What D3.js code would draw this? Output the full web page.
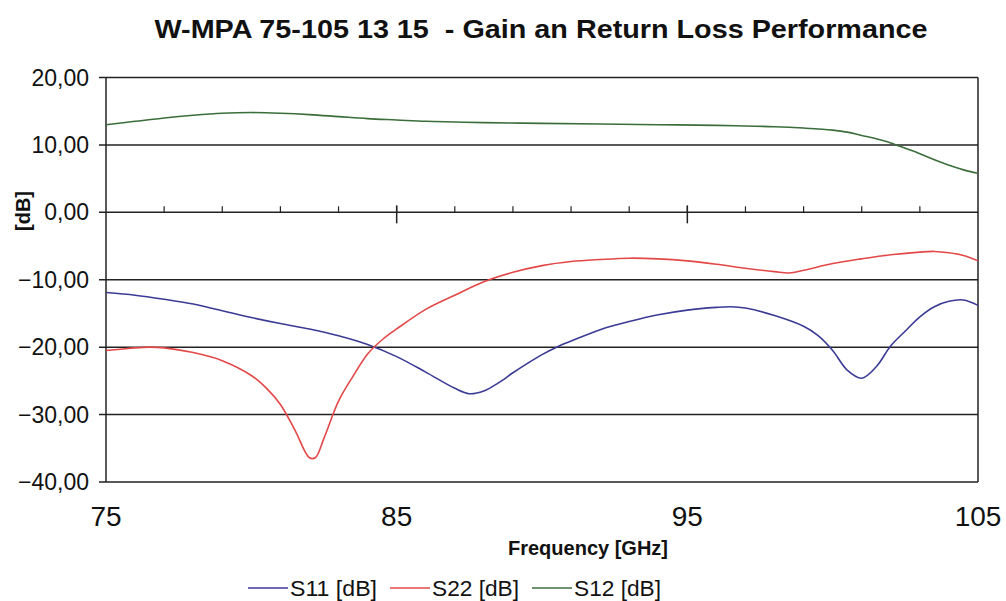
<!DOCTYPE html>
<html>
<head>
<meta charset="utf-8">
<script src="https://cdn.jsdelivr.net/npm/d3@7"></script>
<style>
  body { margin: 0; background: #fff; }
  text { font-family: "Liberation Sans", Arial, sans-serif; fill: #111; white-space: pre; }
</style>
</head>
<body>
<svg id="chart" width="1006" height="601"></svg>
<script>
// ---- data ----
const title = "W-MPA 75-105 13 15  - Gain an Return Loss Performance";
const xTicks = [75, 85, 95, 105];
const yTicks = [20, 10, 0, -10, -20, -30, -40];

const s11Freq = [75, 76, 77, 78, 79, 80, 81, 82, 83, 84, 85, 86, 87, 87.5, 88, 88.5, 89, 89.5, 90, 90.5, 91, 92, 93, 94, 95, 96, 96.5, 97, 98, 99, 99.5, 100, 100.5, 101, 101.5, 102, 102.5, 103, 103.5, 104, 104.5, 105];
const s11 = [-11.9, -12.3, -12.9, -13.6, -14.6, -15.6, -16.5, -17.3, -18.3, -19.6, -21.4, -23.7, -26.1, -26.9, -26.5, -25.3, -23.8, -22.4, -21.1, -20.0, -19.1, -17.4, -16.2, -15.2, -14.5, -14.1, -14.0, -14.2, -15.3, -16.9, -18.3, -20.5, -23.4, -24.6, -22.9, -19.8, -17.6, -15.5, -14.0, -13.2, -13.0, -13.8];

const s22Freq = [75, 75.5, 76, 76.5, 77, 78, 79, 80, 80.5, 81, 81.5, 82, 82.2, 82.5, 83, 83.5, 84, 84.5, 85, 86, 87, 88, 89, 90, 91, 92, 93, 94, 95, 96, 97, 98, 98.5, 99, 100, 101, 102, 103, 103.5, 104, 104.5, 105];
const s22 = [-20.5, -20.3, -20.1, -20.0, -20.1, -20.8, -22.0, -24.2, -26.0, -28.5, -32.3, -36.4, -36.4, -33.5, -28.0, -24.3, -21.0, -18.9, -17.3, -14.4, -12.3, -10.3, -8.9, -7.9, -7.3, -7.0, -6.8, -6.9, -7.2, -7.7, -8.3, -8.8, -9.0, -8.6, -7.6, -6.9, -6.3, -5.9, -5.8, -6.0, -6.4, -7.2];

const s12Freq = [75, 76, 77, 78, 79, 80, 81, 82, 83, 84, 85, 86, 87, 88, 90, 92, 94, 96, 97, 98, 99, 100, 100.5, 101, 101.5, 102, 102.5, 103, 103.5, 104, 104.5, 105];
const s12 = [13.0, 13.5, 14.0, 14.4, 14.7, 14.8, 14.7, 14.5, 14.2, 13.9, 13.7, 13.5, 13.4, 13.3, 13.2, 13.1, 13.0, 12.9, 12.8, 12.7, 12.5, 12.2, 11.9, 11.4, 10.9, 10.3, 9.5, 8.7, 7.8, 7.0, 6.3, 5.8];

const seriesNames = ["S11 [dB]", "S22 [dB]", "S12 [dB]"];
const seriesColors = ["#3b3b95", "#e34848", "#3c6e3c"];

// ---- layout ----
const svg = d3.select("#chart");
const plotLeft = 106, plotRight = 978, plotTop = 77.5, plotBottom = 482;

const x = d3.scaleLinear().domain([75, 105]).range([plotLeft, plotRight]);
const y = d3.scaleLinear().domain([-40, 20]).range([plotBottom, plotTop]);

svg.append("text")
  .attr("x", 541).attr("y", 38)
  .attr("text-anchor", "middle")
  .attr("font-size", 26).attr("font-weight", "bold")
  .attr("textLength", 773).attr("lengthAdjust", "spacingAndGlyphs")
  .text(title);

/* --- horizontal gridlines + y labels --- */
svg.append("g").selectAll("line")
  .data(yTicks)
  .join("line")
  .attr("x1", plotLeft - 7).attr("x2", plotRight)
  .attr("y1", (d) => y(d)).attr("y2", (d) => y(d))
  .attr("stroke", "#222").attr("stroke-width", 1.5);

svg.append("g").selectAll("text")
  .data(yTicks)
  .join("text")
  .attr("x", 89).attr("y", (d) => y(d) + 8)
  .attr("text-anchor", "end")
  .attr("font-size", 23)
  .text((d) => d3.format(".2f")(d).replace(".", ","));

/* --- frame --- */
svg.append("line").attr("x1", plotLeft).attr("x2", plotLeft).attr("y1", plotTop).attr("y2", plotBottom)
  .attr("stroke", "#222").attr("stroke-width", 1.5);
svg.append("line").attr("x1", plotRight).attr("x2", plotRight).attr("y1", plotTop).attr("y2", plotBottom)
  .attr("stroke", "#222").attr("stroke-width", 1.5);

/* --- ticks on the 0 dB line --- */
const minorTicks = d3.range(77, 105, 2);
svg.append("g").selectAll("line")
  .data(minorTicks)
  .join("line")
  .attr("x1", (d) => x(d)).attr("x2", (d) => x(d))
  .attr("y1", y(0) - 6).attr("y2", y(0))
  .attr("stroke", "#222").attr("stroke-width", 1.2);
svg.append("g").selectAll("line")
  .data([85, 95])
  .join("line")
  .attr("x1", (d) => x(d)).attr("x2", (d) => x(d))
  .attr("y1", y(0) - 7).attr("y2", y(0) + 11)
  .attr("stroke", "#222").attr("stroke-width", 1.5);

/* --- x labels --- */
svg.append("g").selectAll("text")
  .data(xTicks)
  .join("text")
  .attr("x", (d) => x(d)).attr("y", 526)
  .attr("text-anchor", "middle")
  .attr("font-size", 28)
  .text((d) => d);

svg.append("text")
  .attr("x", 588).attr("y", 555)
  .attr("text-anchor", "middle")
  .attr("font-size", 20).attr("font-weight", "bold")
  .text("Frequency [GHz]");

svg.append("text")
  .attr("transform", "translate(30,211) rotate(-90)")
  .attr("text-anchor", "middle")
  .attr("font-size", 20).attr("font-weight", "bold")
  .text("[dB]");

/* --- series --- */
const series = [
  { name: seriesNames[0], freq: s11Freq, vals: s11, color: seriesColors[0] },
  { name: seriesNames[1], freq: s22Freq, vals: s22, color: seriesColors[1] },
  { name: seriesNames[2], freq: s12Freq, vals: s12, color: seriesColors[2] },
];

const line = d3.line()
  .x((d) => x(d[0]))
  .y((d) => y(d[1]))
  .curve(d3.curveCatmullRom.alpha(0.5));

svg.append("g").selectAll("path")
  .data(series)
  .join("path")
  .attr("d", (s) => line(s.freq.map((f, i) => [f, s.vals[i]])))
  .attr("fill", "none")
  .attr("stroke", (s) => s.color)
  .attr("stroke-width", 1.6);

/* --- legend --- */
const legendX = [248, 390, 532];
const legend = svg.append("g").selectAll("g")
  .data(series)
  .join("g")
  .attr("transform", (d, i) => `translate(${legendX[i]},588)`);
legend.append("line")
  .attr("x1", 0).attr("x2", 40)
  .attr("stroke", (d) => d.color).attr("stroke-width", 1.6);
legend.append("text")
  .attr("x", 42).attr("y", 8)
  .attr("font-size", 22)
  .attr("textLength", 87).attr("lengthAdjust", "spacingAndGlyphs")
  .text((d) => d.name);
</script>
</body>
</html>
